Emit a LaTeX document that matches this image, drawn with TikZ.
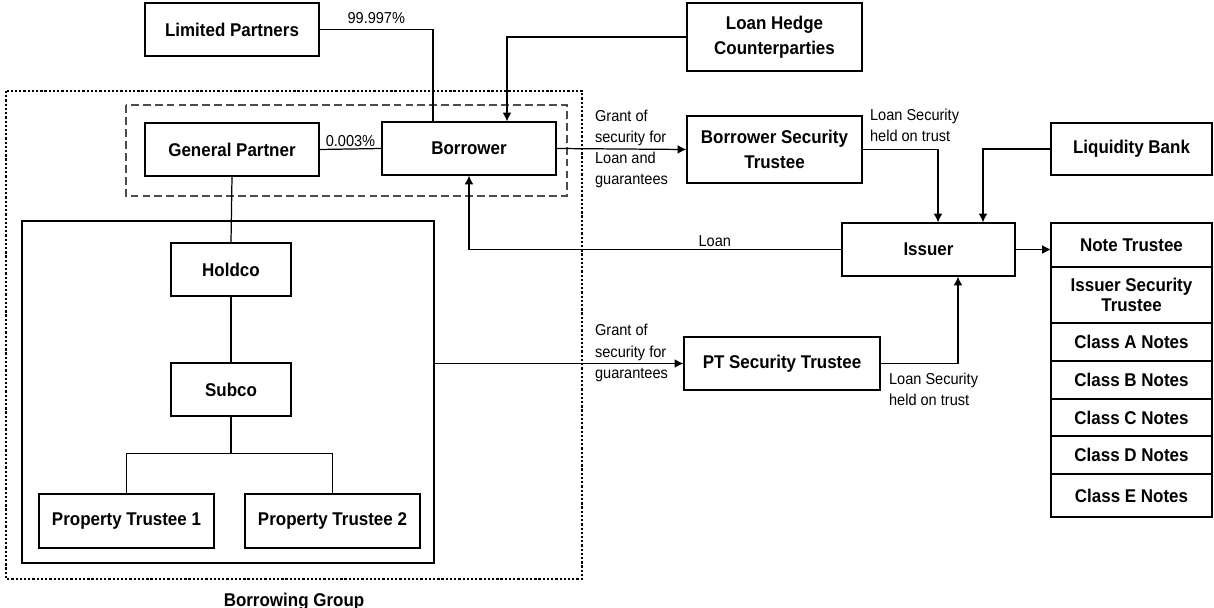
\documentclass[tikz,border=0pt]{standalone}
\usepackage{fontspec}
\newfontfamily\diagfont{Liberation Sans}[FakeStretch=0.92]
\usetikzlibrary{arrows.meta}
\usetikzlibrary{positioning}

\begin{document}
\begin{tikzpicture}[
  x=0.02cm, y=-0.02cm,
  > = {Latex[length=5pt,width=5pt]},
  every node/.style = {font=\diagfont},
  box/.style = {draw, line width=0.7pt, inner sep=2pt, align=center,
    font=\diagfont\bfseries\fontsize{10.5}{14}\selectfont},
  row/.style = {box, outer sep=0pt, minimum width=3.22cm},
  note/.style = {align=left, inner sep=1pt, font=\diagfont\fontsize{9}{12}\selectfont},
  link/.style = {line width=0.7pt}
  ]
  \useasboundingbox (0,0) rectangle (1214,608);

  % groupings
  \draw[line width=1.3pt, dash pattern=on 1.3pt off 1.1pt] (6,91) rectangle (582,579);
  \draw[line width=0.8pt, gray!60!black, dash pattern=on 4.5pt off 2.3pt] (126,105) rectangle (567,196);
  \node[draw, line width=1.3pt, minimum width=8.24cm, minimum height=6.84cm] (group) at (228,392) {};
  \node[font=\diagfont\bfseries\fontsize{10.5}{12}\selectfont, anchor=base] (bg) at (294,606) {Borrowing Group};

  % borrower side
  \node[box, minimum width=3.48cm, minimum height=1.06cm] (lp)   at (232,29.5)  {Limited Partners};
  \node[box, minimum width=3.48cm, minimum height=1.06cm] (gp)   at (232,149.5) {General Partner};
  \node[box, minimum width=3.48cm, minimum height=1.06cm] (borr) at (469,148.5) {Borrower};
  \node[box, minimum width=2.4cm,  minimum height=1.06cm] (hold) at (231,269.5) {Holdco};
  \node[box, minimum width=2.4cm,  minimum height=1.06cm] (sub)  at (231,389.5) {Subco};
  \node[box, minimum width=3.5cm,  minimum height=1.08cm] (pt1)  at (126.5,521) {Property Trustee 1};
  \node[box, minimum width=3.5cm,  minimum height=1.08cm] (pt2)  at (332.5,521) {Property Trustee 2};

  % issuer side
  \node[box, minimum width=3.5cm,  minimum height=1.36cm] (lhc)  at (774.5,37)   {Loan Hedge\\Counterparties};
  \node[box, minimum width=3.5cm,  minimum height=1.34cm] (bst)  at (774.5,149.5) {Borrower Security\\Trustee};
  \node[box, minimum width=3.22cm, minimum height=1.04cm] (lb)   at (1131.5,149) {Liquidity Bank};
  \node[box, minimum width=3.46cm, minimum height=1.06cm] (iss)  at (928.5,249.5) {Issuer};
  \node[box, minimum width=3.92cm, minimum height=1.06cm] (ptst) at (782,363.5)  {PT Security Trustee};

  % notes stack
  \node[row, minimum height=0.88cm] (nt) at (1131.5,245) {Note Trustee};
  \node[row, minimum height=1.12cm, font=\diagfont\bfseries\fontsize{10.5}{11}\selectfont,
        below=0pt of nt] (ist) {Issuer Security\\Trustee};
  \node[row, minimum height=0.76cm, below=0pt of ist] (ca) {Class A Notes};
  \node[row, minimum height=0.76cm, below=0pt of ca]  (cb) {Class B Notes};
  \node[row, minimum height=0.74cm, below=0pt of cb]  (cc) {Class C Notes};
  \node[row, minimum height=0.76cm, below=0pt of cc]  (cd) {Class D Notes};
  \node[row, minimum height=0.86cm, below=0pt of cd]  (ce) {Class E Notes};

  % ownership lines
  \draw[link] (lp.east) -| node[note, above=2pt, pos=0.25] (lpshare) {99.997\%} ([xshift=-0.72cm]borr.north);
  \draw[link] (gp.east) -- node[note, above, pos=0.5] (gpshare) {0.003\%} (borr.west);
  \draw[link] (gp.south) -- (hold.north);
  \draw[link] (hold.south) -- (sub.north);
  \draw[link] (sub.south) -- ++(0,-0.74cm) coordinate (fork);
  \draw[link] (pt1.north) |- (fork) -| (pt2.north);

  % security and loan flows
  \draw[link,->] (lhc.west) -| ([xshift=0.76cm]borr.north);
  \draw[link,->] (borr.east) -- (bst.west);
  \node[note, anchor=west] (grant1) at (593,149) {Grant of\\security for\\Loan and\\guarantees};
  \draw[link,->] (bst.east) -| ([xshift=0.19cm]iss.north);
  \node[note, anchor=west] (held1) at (868,125) {Loan Security\\held on trust};
  \draw[link,->] (lb.west) -| ([xshift=1.09cm]iss.north);
  \draw[link,->] (iss.west) -| node[note, above, pos=0.17] (loan) {Loan} (borr.south);
  \draw[link,->] (iss.east) -- (iss.east -| nt.west);
  \draw[link,->] (ptst.west -| group.east) -- (ptst.west);
  \node[note, anchor=west] (grant2) at (593,353) {Grant of\\security for\\guarantees};
  \draw[link,->] (ptst.east) -| ([xshift=0.59cm]iss.south);
  \node[note, anchor=west] (held2) at (887,389) {Loan Security\\held on trust};

\end{tikzpicture}
\end{document}
